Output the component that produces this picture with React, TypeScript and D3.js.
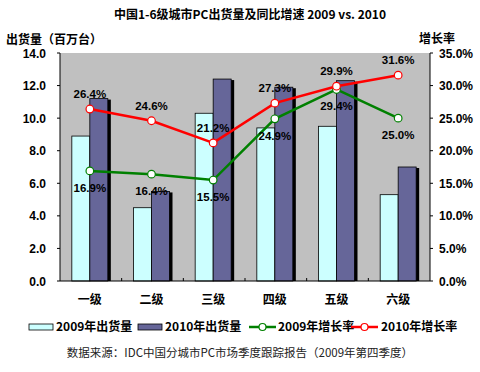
import React from 'react';
import * as d3 from 'd3';

const categories = ['一级', '二级', '三级', '四级', '五级', '六级'];
const ship2009 = [8.9, 4.5, 10.3, 9.4, 9.5, 5.3];
const ship2010 = [11.2, 5.5, 12.4, 11.9, 12.3, 7.0];
const growth2009 = [16.9, 16.4, 15.5, 24.9, 29.4, 25.0];
const growth2010 = [26.4, 24.6, 21.2, 27.3, 29.9, 31.6];
const leftTicks = [0, 2, 4, 6, 8, 10, 12, 14];
const rightTicks = [0, 5, 10, 15, 20, 25, 30, 35];

const W = 480;
const H = 372;
const left = 60;
const right = 430;
const top = 53;
const bottom = 281;

const FONT = '"Liberation Sans", Arial, "Noto Sans CJK SC", sans-serif';
const CJK = '"Noto Sans CJK SC", sans-serif';

const App: React.FC = () => {
  const x = d3.scaleBand<string>().domain(categories).range([left, right]).paddingInner(0).paddingOuter(0);
  const y = d3.scaleLinear().domain([0, 14]).range([bottom, top]);
  const y2 = d3.scaleLinear().domain([0, 35]).range([bottom, top]);
  const barW = 18;
  const center = (c: string) => (x(c) as number) + x.bandwidth() / 2 - 1;

  const line = d3
    .line<number>()
    .x((_, i) => center(categories[i]))
    .y((d) => y2(d));

  const series = [
    { data: growth2009, color: '#008000', above: false },
    { data: growth2010, color: '#FF0000', above: true },
  ];

  return (
    <svg width={W} height={H} style={{ position: 'absolute', left: 0, top: 0, background: '#fff' }}>
      <text x={250} y={19} textAnchor="middle" fontFamily={CJK} fontWeight="bold" fontSize={12}>
        中国1-6级城市PC出货量及同比增速 2009 vs. 2010
      </text>
      <text x={6} y={44} fontFamily={CJK} fontWeight="bold" fontSize={12}>出货量（百万台）</text>
      <text x={419} y={43} fontFamily={CJK} fontWeight="bold" fontSize={12}>增长率</text>

      <rect x={left} y={top} width={right - left} height={bottom - top} fill="#C0C0C0" />

      {categories.map((c, i) => {
        const cx = center(c);
        return (
          <g key={c}>
            <rect x={cx - barW} y={y(ship2009[i])} width={barW} height={bottom - y(ship2009[i])}
              fill="#CCFFFF" stroke="#000" strokeWidth={0.8} />
            <rect x={cx + 3} y={y(ship2010[i]) + 1} width={barW} height={bottom - y(ship2010[i]) - 1} fill="#000" />
            <rect x={cx} y={y(ship2010[i])} width={barW} height={bottom - y(ship2010[i])}
              fill="#666699" stroke="#000" strokeWidth={0.8} />
          </g>
        );
      })}

      {series.map((s, k) => (
        <g key={k}>
          <path d={line(s.data) || ''} fill="none" stroke={s.color} strokeWidth={2.5} />
          {s.data.map((v, i) => (
            <circle key={i} cx={center(categories[i])} cy={y2(v)} r={3.8} fill="#fff" stroke={s.color} strokeWidth={1.2} />
          ))}
          {s.data.map((v, i) => (
            <text key={'t' + i} x={center(categories[i])} y={y2(v) + (s.above ? -11 : 21)} textAnchor="middle"
              fontFamily={FONT} fontWeight="bold" fontSize={11.5} fill="#000">
              {v.toFixed(1)}%
            </text>
          ))}
        </g>
      ))}

      {/* axes */}
      <line x1={left} x2={left} y1={top} y2={bottom} stroke="#000" />
      <line x1={right} x2={right} y1={top} y2={bottom} stroke="#000" />
      <line x1={left} x2={right} y1={bottom} y2={bottom} stroke="#000" />
      {leftTicks.map((t) => (
        <g key={'l' + t}>
          <line x1={left - 3} x2={left} y1={y(t)} y2={y(t)} stroke="#000" />
          <text x={46} y={y(t) + 4.5} textAnchor="end" fontFamily={FONT} fontWeight="bold" fontSize={12}>
            {t.toFixed(1)}
          </text>
        </g>
      ))}
      {rightTicks.map((t) => (
        <g key={'r' + t}>
          <line x1={right} x2={right + 3} y1={y2(t)} y2={y2(t)} stroke="#000" />
          <text x={439} y={y2(t) + 4.5} fontFamily={FONT} fontWeight="bold" fontSize={12}>
            {t.toFixed(1)}%
          </text>
        </g>
      ))}
      {categories.map((c, i) => (
        <g key={'c' + c}>
          {i > 0 && <line x1={x(c)} x2={x(c)} y1={bottom - 3} y2={bottom} stroke="#000" />}
          <text x={center(c)} y={304} textAnchor="middle" fontFamily={CJK} fontWeight="bold" fontSize={12}>{c}</text>
        </g>
      ))}

      {/* legend */}
      <rect x={29} y={324} width={24} height={6} fill="#CCFFFF" stroke="#000" strokeWidth={0.8} />
      <text x={56} y={331} fontFamily={CJK} fontWeight="bold" fontSize={12}>2009年出货量</text>
      <rect x={138} y={324} width={24} height={6} fill="#666699" stroke="#000" strokeWidth={0.8} />
      <text x={165} y={331} fontFamily={CJK} fontWeight="bold" fontSize={12}>2010年出货量</text>
      <line x1={249} x2={276} y1={327} y2={327} stroke="#008000" strokeWidth={2.5} />
      <circle cx={262.5} cy={327} r={3.5} fill="#fff" stroke="#008000" strokeWidth={1.2} />
      <text x={278} y={331} fontFamily={CJK} fontWeight="bold" fontSize={12}>2009年增长率</text>
      <line x1={351} x2={378} y1={327} y2={327} stroke="#FF0000" strokeWidth={2.5} />
      <circle cx={364.5} cy={327} r={3.5} fill="#fff" stroke="#FF0000" strokeWidth={1.2} />
      <text x={381} y={331} fontFamily={CJK} fontWeight="bold" fontSize={12}>2010年增长率</text>

      <text x={240} y={357} textAnchor="middle" fontFamily={CJK} fontSize={11.5} fill="#222">
        数据来源：IDC中国分城市PC市场季度跟踪报告（2009年第四季度）
      </text>
    </svg>
  );
};

export default App;
